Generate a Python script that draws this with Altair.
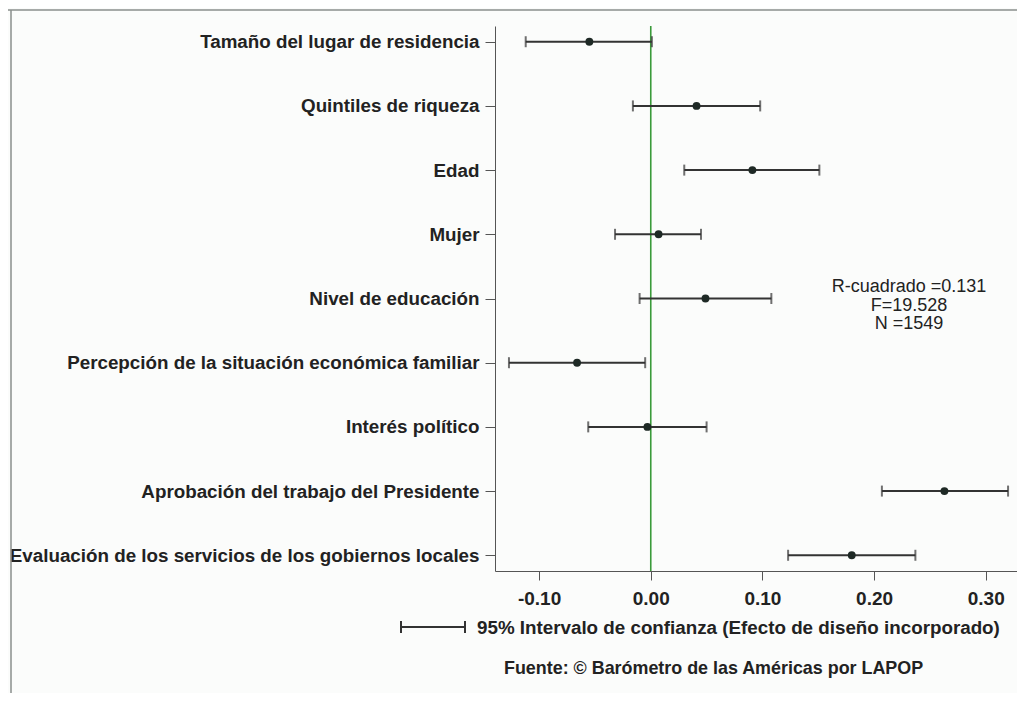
import altair as alt
import pandas as pd

variables = [
    "Tamaño del lugar de residencia",
    "Quintiles de riqueza",
    "Edad",
    "Mujer",
    "Nivel de educación",
    "Percepción de la situación económica familiar",
    "Interés político",
    "Aprobación del trabajo del Presidente",
    "Evaluación de los servicios de los gobiernos locales",
]
coef = [-0.055, 0.041, 0.091, 0.007, 0.049, -0.066, -0.003, 0.263, 0.180]
ci_low = [-0.112, -0.016, 0.030, -0.032, -0.010, -0.127, -0.056, 0.207, 0.123]
ci_high = [0.001, 0.098, 0.151, 0.045, 0.108, -0.005, 0.050, 0.320, 0.237]
x_ticks = [-0.1, 0.0, 0.1, 0.2, 0.3]
stats_lines = ["R-cuadrado =0.131", "F=19.528", "N =1549"]
legend_text = "95% Intervalo de confianza (Efecto de diseño incorporado)"
source_text = "Fuente: © Barómetro de las Américas por LAPOP"

df = pd.DataFrame({"var": variables, "coef": coef, "lo": ci_low, "hi": ci_high})
one = pd.DataFrame({"a": [0]})
zero_df = pd.DataFrame({"z": [0.0]})

FONT = "Liberation Sans"
TXT = "#222222"
BAR = "#333333"

W, H = 522, 545
x_scale = alt.Scale(domain=[-0.1395, 0.328], nice=False, zero=False)
y_scale = alt.Scale(type="point", padding=0.245)

y_enc = alt.Y(
    "var:N",
    sort=variables,
    scale=y_scale,
    axis=alt.Axis(
        title=None,
        tickSize=10,
        tickColor="#555555",
        domainColor="#555555",
        labelPadding=6,
        labelFont=FONT,
        labelFontSize=18.8,
        labelFontWeight="bold",
        labelColor=TXT,
        labelLimit=700,
        grid=False,
    ),
)
x_enc_kw = dict(
    scale=x_scale,
    axis=alt.Axis(
        title=None,
        values=x_ticks,
        labelExpr="(datum.value < 0 ? '-' : '') + format(abs(datum.value), '.2f')",
        tickSize=9,
        tickColor="#555555",
        domainColor="#555555",
        labelPadding=9,
        labelFont=FONT,
        labelFontSize=19,
        labelFontWeight="bold",
        labelColor=TXT,
        grid=False,
    ),
)

base = alt.Chart(df)

zero_line = alt.Chart(zero_df).mark_rule(color="#3a9a3a", strokeWidth=1.6).encode(
    x=alt.X("z:Q", **x_enc_kw)
)
bars = base.mark_rule(color=BAR, strokeWidth=2).encode(
    x=alt.X("lo:Q", **x_enc_kw), x2="hi:Q", y=y_enc
)
cap_lo = base.mark_tick(color=BAR, size=11, thickness=2).encode(
    x=alt.X("lo:Q", **x_enc_kw), y=y_enc
)
cap_hi = base.mark_tick(color=BAR, size=11, thickness=2).encode(
    x=alt.X("hi:Q", **x_enc_kw), y=y_enc
)
points = base.mark_circle(size=62, opacity=1, color="#1e2925").encode(
    x=alt.X("coef:Q", **x_enc_kw), y=y_enc
)

stats = alt.Chart(one).mark_text(
    text=stats_lines,
    font=FONT,
    fontSize=18,
    lineHeight=18.5,
    align="center",
    baseline="top",
    color=TXT,
).encode(x=alt.value(414), y=alt.value(252))

leg_line = alt.Chart(one).mark_rule(color=BAR, strokeWidth=2).encode(
    x=alt.value(-94), x2=alt.value(-30), y=alt.value(601)
)
leg_cap1 = alt.Chart(one).mark_rule(color=BAR, strokeWidth=2).encode(
    x=alt.value(-94), y=alt.value(595), y2=alt.value(607)
)
leg_cap2 = alt.Chart(one).mark_rule(color=BAR, strokeWidth=2).encode(
    x=alt.value(-30), y=alt.value(595), y2=alt.value(607)
)
leg_text = alt.Chart(one).mark_text(
    text=legend_text,
    font=FONT,
    fontSize=18.8,
    fontWeight="bold",
    align="left",
    baseline="middle",
    color=TXT,
).encode(x=alt.value(-18), y=alt.value(602))
src_text = alt.Chart(one).mark_text(
    text=source_text,
    font=FONT,
    fontSize=17.9,
    fontWeight="bold",
    align="left",
    baseline="middle",
    color=TXT,
).encode(x=alt.value(9), y=alt.value(643))

border_top = alt.Chart(one).mark_rule(color="#8a8f8d", strokeWidth=1.5).encode(
    x=alt.value(-487), x2=alt.value(540), y=alt.value(-16)
)
border_left = alt.Chart(one).mark_rule(color="#8a8f8d", strokeWidth=1.5).encode(
    x=alt.value(-484), y=alt.value(-16), y2=alt.value(700)
)

chart = alt.layer(
    border_top, border_left, zero_line, bars, cap_lo, cap_hi, points,
    stats, leg_line, leg_cap1, leg_cap2, leg_text, src_text,
).properties(
    width=W,
    height=H,
    autosize=alt.AutoSizeParams(type="none"),
    padding={"left": 487, "top": 18, "right": 0, "bottom": 122},
    background="#fbfcfb",
).configure_view(stroke=None)

chart.save("out.html", embed_options={"renderer": "svg", "actions": False})
